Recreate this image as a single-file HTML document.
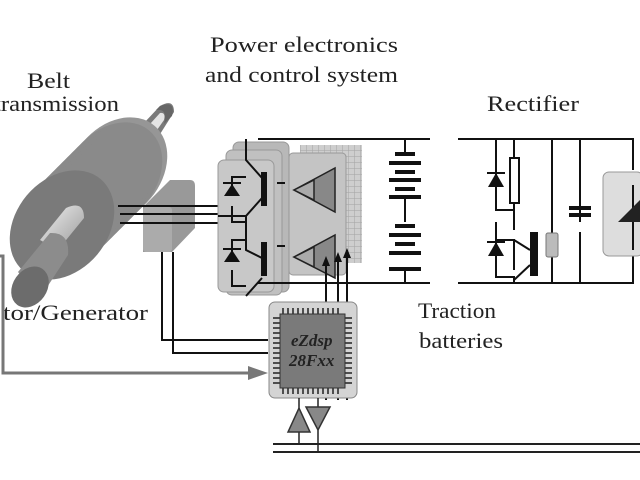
<!DOCTYPE html>
<html><head><meta charset="utf-8"><style>
html,body{margin:0;padding:0;background:#fff;width:640px;height:480px;overflow:hidden}
svg{display:block}
text{font-family:"Liberation Serif",serif;font-size:22px;fill:#222}
</style></head><body>
<svg width="640" height="480" viewBox="0 0 640 480">
<defs>
<linearGradient id="sh" x1="0" y1="0" x2="1" y2="1"><stop offset="0" stop-color="#f0f0f0"/><stop offset="1" stop-color="#999"/></linearGradient>
<pattern id="hatch" width="6" height="6" patternUnits="userSpaceOnUse"><rect width="6" height="6" fill="#c8c8c8"/><path d="M0 0H6M0 0V6" stroke="#999" stroke-width="1"/></pattern>
</defs>
<text x="27" y="88" textLength="43" lengthAdjust="spacingAndGlyphs">Belt</text>
<text x="-6" y="111" textLength="125" lengthAdjust="spacingAndGlyphs">transmission</text>
<text x="210" y="52" textLength="188" lengthAdjust="spacingAndGlyphs">Power electronics</text>
<text x="205" y="82" textLength="193" lengthAdjust="spacingAndGlyphs">and control system</text>
<text x="487" y="111" textLength="92" lengthAdjust="spacingAndGlyphs">Rectifier</text>
<text x="3" y="320" textLength="145" lengthAdjust="spacingAndGlyphs">tor/Generator</text>
<text x="418" y="318" textLength="78" lengthAdjust="spacingAndGlyphs">Traction</text>
<text x="419" y="348" textLength="84" lengthAdjust="spacingAndGlyphs">batteries</text>

<!-- motor -->
<g>
<path d="M128 140 L160 106 Q174 98 174 112 L150 150 Z" fill="#7a7a7a"/>
<path d="M140 135 L160 113 Q166 112 164 120 L150 140 Z" fill="#e4e4e4"/>
<path d="M160 106 Q176 100 172 116 L164 124 Q168 108 156 110Z" fill="#666"/>
<g fill="#8a8a8a">
<ellipse cx="117" cy="170" rx="44" ry="58" transform="rotate(40 117 170)" fill="#969696"/>
<ellipse cx="112" cy="175" rx="44" ry="58" transform="rotate(40 112 175)"/>
<ellipse cx="107" cy="180" rx="44" ry="58" transform="rotate(40 107 180)"/>
<ellipse cx="102" cy="185" rx="44" ry="58" transform="rotate(40 102 185)"/>
<ellipse cx="97" cy="190" rx="44" ry="58" transform="rotate(40 97 190)"/>
<ellipse cx="92" cy="195" rx="44" ry="58" transform="rotate(40 92 195)"/>
<ellipse cx="87" cy="200" rx="44" ry="58" transform="rotate(40 87 200)"/>
<ellipse cx="82" cy="205" rx="44" ry="58" transform="rotate(40 82 205)"/>
<ellipse cx="77" cy="210" rx="44" ry="58" transform="rotate(40 77 210)"/>
<ellipse cx="72" cy="215" rx="44" ry="58" transform="rotate(40 72 215)"/>
<ellipse cx="67" cy="220" rx="44" ry="58" transform="rotate(40 67 220)"/>
</g>
<ellipse cx="62" cy="225" rx="46" ry="60" transform="rotate(40 62 225)" fill="#7a7a7a"/>
<path d="M40 240 L66 208 Q84 200 84 218 L58 250 Z" fill="url(#sh)"/>
<path d="M18 272 L50 233 Q70 232 68 255 L40 298 Z" fill="#8c8c8c"/>
<ellipse cx="30" cy="287" rx="17" ry="22" transform="rotate(35 30 287)" fill="#6c6c6c"/>
</g>
<!-- encoder box -->
<path d="M143 207 L170 180 L190 180 Q195 180 195 186 L195 228 L172 252 L143 252 Z" fill="#999"/>
<rect x="143" y="207" width="29" height="45" rx="3" fill="#ababab"/>
<g stroke="#111" stroke-width="2" fill="none">
<path d="M118 206H218M120 214H218M120 223H218"/>
<path d="M162 252V340H268M173 252V353H268"/>
</g>
<path d="M0 256H3V373H250" stroke="#777" stroke-width="3" fill="none"/>
<path d="M248 366L268 373L248 380Z" fill="#777"/>

<!-- inverter panels -->
<rect x="233" y="142" width="56" height="150" rx="6" fill="#b8b8b8" stroke="#999"/>
<rect x="226" y="150" width="56" height="145" rx="6" fill="#c0c0c0" stroke="#999"/>
<rect x="218" y="160" width="56" height="132" rx="6" fill="#c8c8c8" stroke="#999"/>
<rect x="300" y="145" width="62" height="118" fill="url(#hatch)" opacity="0.9"/>
<rect x="289" y="153" width="57" height="122" rx="4" fill="#c4c4c4" stroke="#999"/>
<g fill="#888" stroke="#222" stroke-width="1.5">
<path d="M294 190L335 168V212Z"/><path d="M294 257L335 235V278Z"/>
</g>
<g fill="#aaa" stroke="#222" stroke-width="1.5">
<path d="M294 190L314 180V200Z"/><path d="M294 257L314 247V267Z"/>
</g>
<g stroke="#111" stroke-width="2" fill="none">
<path d="M258 139H430M258 283H430M458 139H633V170M458 283H633V256"/>
<path d="M246 139L246 160L262 178M262 198L246 216V250L262 258M262 278L246 296"/>
<path d="M232 190V177H246M232 206V222H246M232 253V240H246M232 270V286H246"/>
<path d="M218 216H246"/>
<path d="M277 183H285M277 246H285"/>
<path d="M326 400V260M338 400V255M347 400V250"/>
<path d="M405 139V155M405 195V222M405 270V283"/>
</g>
<g fill="#111">
<rect x="261" y="172" width="6" height="34"/><rect x="261" y="242" width="6" height="34"/>
<path d="M224 196H240L232 184Z"/><rect x="223" y="182" width="18" height="2"/>
<path d="M224 262H240L232 250Z"/><rect x="223" y="248" width="18" height="2"/>
<path d="M322 266L326 256L330 266Z M334 262L338 252L342 262Z M343 258L347 248L351 258Z"/>
<rect x="395" y="152" width="20" height="4"/><rect x="389" y="161" width="32" height="4"/>
<rect x="395" y="170" width="20" height="4"/><rect x="389" y="178" width="32" height="4"/>
<rect x="395" y="187" width="20" height="4"/><rect x="389" y="195" width="32" height="4"/>
<rect x="395" y="224" width="20" height="4"/><rect x="389" y="233" width="32" height="4"/>
<rect x="395" y="242" width="20" height="4"/><rect x="389" y="251" width="32" height="4"/>
<rect x="389" y="267" width="32" height="4"/>
</g>
<!-- rectifier -->
<g stroke="#111" stroke-width="2" fill="none">
<path d="M496 139V210H514M514 139V230M496 222V240H514V270M496 240V277H514V283M552 139V283M580 139V222M580 232V283"/>
<path d="M514 240L530 250M530 265L514 280"/>
<rect x="510" y="158" width="9" height="45" fill="#fff"/>
</g>
<g fill="#111">
<path d="M488 187H504L496 173Z"/><rect x="487" y="172" width="18" height="2"/>
<path d="M488 256H504L496 242Z"/><rect x="487" y="241" width="18" height="2"/>
<rect x="530" y="232" width="8" height="44"/>
<rect x="569" y="206" width="22" height="4"/><rect x="569" y="213" width="22" height="4"/>
</g>
<rect x="546" y="233" width="12" height="24" rx="2" fill="#bbb" stroke="#777"/>
<rect x="603" y="172" width="40" height="84" rx="6" fill="#ddd" stroke="#999"/>
<path d="M633 185V250" stroke="#111" stroke-width="2"/>
<path d="M618 222H640V200Z" fill="#222"/>

<!-- chip -->
<rect x="269" y="302" width="88" height="96" rx="6" fill="#d4d4d4" stroke="#888"/>
<g stroke="#222" stroke-width="1.5">
<path d="M283 308V314M288 308V314M293 308V314M298 308V314M303 308V314M308 308V314M313 308V314M318 308V314M323 308V314M328 308V314M333 308V314M338 308V314"/>
<path d="M283 388V394M288 388V394M293 388V394M298 388V394M303 388V394M308 388V394M313 388V394M318 388V394M323 388V394M328 388V394M333 388V394M338 388V394"/>
<path d="M273 318H280M273 323H280M273 328H280M273 333H280M273 338H280M273 343H280M273 348H280M273 353H280M273 358H280M273 363H280M273 368H280M273 373H280M273 378H280M273 383H280"/>
<path d="M345 318H352M345 323H352M345 328H352M345 333H352M345 338H352M345 343H352M345 348H352M345 353H352M345 358H352M345 363H352M345 368H352M345 373H352M345 378H352M345 383H352"/>
</g>
<rect x="280" y="314" width="65" height="74" fill="#7a7a7a" stroke="#333"/>
<text x="291" y="346" style="font-size:17px;font-style:italic;font-weight:bold" fill="#222">eZdsp</text>
<text x="289" y="366" style="font-size:17px;font-style:italic;font-weight:bold" fill="#222">28Fxx</text>
<g stroke="#222" stroke-width="1.5">
<path d="M299 398V445M318 398V452"/>
<path d="M273 444H640M273 452H640" stroke-width="2"/>
</g>
<path d="M288 432L299 408L310 432Z" fill="#888" stroke="#333" stroke-width="1.5"/>
<path d="M306 407H330L318 430Z" fill="#888" stroke="#333" stroke-width="1.5"/>
</svg>
</body></html>
